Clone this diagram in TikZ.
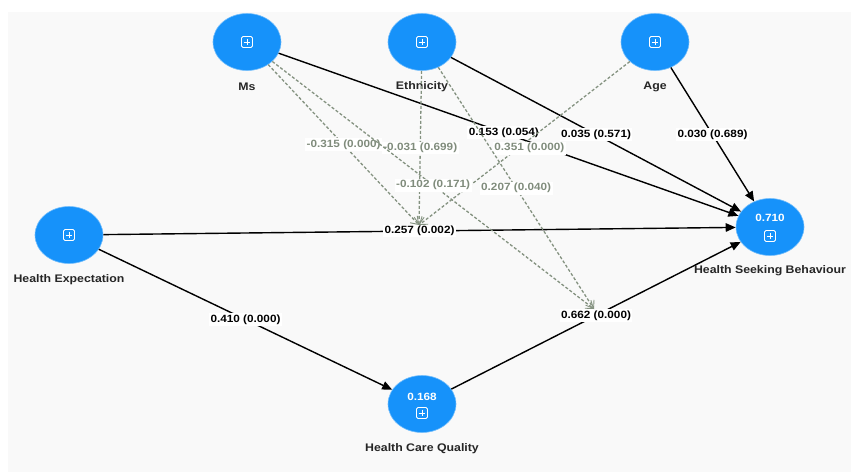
\documentclass[tikz,border=0pt]{standalone}
\usepackage{fontspec}
\newfontfamily\lblfont{Liberation Sans}[FakeStretch=1.12]
\usetikzlibrary{arrows.meta,shapes.geometric}
\definecolor{sblue}{RGB}{22,146,250}
\definecolor{bgcol}{RGB}{249,249,249}
\definecolor{modgray}{RGB}{132,146,128}
\definecolor{modtxt}{RGB}{128,140,124}
\tikzset{
  lv/.style={ellipse, fill=sblue, draw=sblue!60!white, line width=0.6pt, minimum width=68pt, minimum height=57pt, inner sep=0pt},
  ttl/.style={font=\lblfont\bfseries\fontsize{11}{13}\selectfont, text=black!85},
  rsq/.style={font=\lblfont\bfseries\fontsize{10.5}{12}\selectfont, text=white},
  pth/.style={draw=black, line width=1.4pt, -{Triangle[length=10pt,width=8.5pt]}},
  modarrow/.style={draw=modgray, line width=1.3pt, dash pattern=on 3pt off 2pt, -{Straight Barb[length=7pt,width=10pt,line width=0.9pt]}},
  blab/.style={fill=white, inner sep=1.5pt, font=\lblfont\bfseries\fontsize{10.5}{12}\selectfont, text=black},
  glab/.style={blab, text=modtxt},
  pbox/.pic={
    \draw[white, line width=0.9pt, rounded corners=1.5pt] (-5.5,-5.5) rectangle (5.5,5.5);
    \draw[white, line width=0.9pt] (-3.3,0) -- (3.3,0) (0,-3.3) -- (0,3.3);
  }
}
\begin{document}
\begin{tikzpicture}[x=1pt,y=-1pt]
\useasboundingbox (0,0) rectangle (851,472);
\fill[bgcol] (8,12) rectangle (851,472);

% latent variables
\node[lv] (ms)  at (247,42) {};
\node[lv] (eth) at (422,42) {};
\node[lv] (age) at (655,42) {};
\node[lv] (he)  at (69,235) {};
\node[lv] (hsb) at (770,227) {};
\node[lv] (hcq) at (422,404) {};

\pic at (247,42) {pbox};
\pic at (422,42) {pbox};
\pic at (655,42) {pbox};
\pic at (69,235) {pbox};
\pic at (770,236) {pbox};
\pic at (422,413) {pbox};
\node[rsq] (hsbr) at (770,218) {0.710};
\node[rsq] (hcqr) at (422,397) {0.168};

% titles
\node[ttl] (msl)  at (247,87) {Ms};
\node[ttl] (ethl) at (422,87) {Ethnicity};
\node[ttl] (agel) at (655,87) {Age};
\node[ttl] (hel)  at (69,280) {Health Expectation};
\node[ttl] (hsbl) at (770,271) {Health Seeking Behaviour};
\node[ttl] (hcql) at (422,449) {Health Care Quality};

% moderation targets
\coordinate (m1) at (419,225);
\coordinate (m2) at (594,309);

% structural paths
\draw[pth] (ms)  -- node[blab, pos=0.49] {0.153 (0.054)} (hsb);
\draw[pth] (eth) -- node[blab] {0.035 (0.571)} (hsb);
\draw[pth] (age) -- node[blab] {0.030 (0.689)} (hsb);
\draw[pth] (he)  -- node[blab] {0.257 (0.002)} (hsb);
\draw[pth] (he)  -- node[blab] {0.410 (0.000)} (hcq);
\draw[pth] (hcq) -- node[blab] {0.662 (0.000)} (hsb);

% moderating effects
\draw[modarrow] (ms)  -- node[glab] {-0.315 (0.000)} (m1);
\draw[modarrow] (eth) -- node[glab] {-0.031 (0.699)} (m1);
\draw[modarrow] (age) -- node[glab, xshift=5pt, yshift=-5pt] {0.351 (0.000)} (m1);
\draw[modarrow] (ms)  -- node[glab] {-0.102 (0.171)} (m2);
\draw[modarrow] (eth) -- node[glab] {0.207 (0.040)} (m2);
\end{tikzpicture}
\end{document}
